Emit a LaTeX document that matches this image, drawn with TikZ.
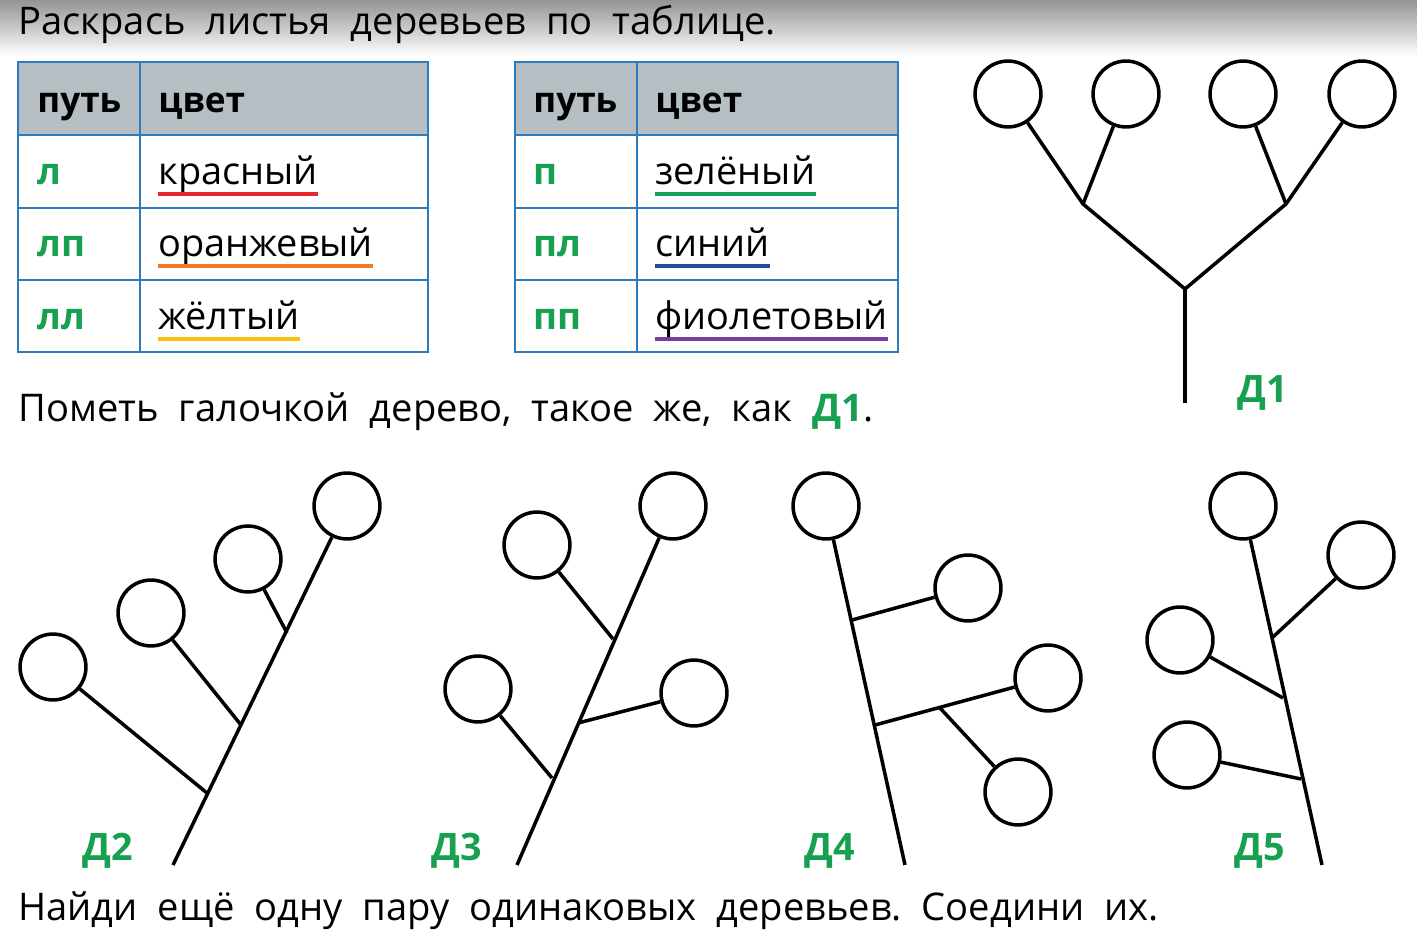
\documentclass[tikz,border=0pt]{standalone}
\usepackage{fontspec}
\setmainfont{Open Sans}
\definecolor{tblue}{HTML}{2B7BBD}
\definecolor{thead}{HTML}{B5BEC3}
\definecolor{dgreen}{HTML}{17A050}
\definecolor{ured}{HTML}{E8262D}
\definecolor{uorange}{HTML}{F07A22}
\definecolor{uyellow}{HTML}{FBBF0E}
\definecolor{ugreen}{HTML}{16A05A}
\definecolor{ublue}{HTML}{1F4E9A}
\definecolor{upurple}{HTML}{7A3D9E}
\tikzset{
  leaf/.style={circle, draw, line width=2pt, minimum size=37.5pt, inner sep=0pt},
  branch/.style={line width=2pt},
  txt/.style={anchor=base west, inner sep=0pt, font=\fontsize{21.7}{24}\selectfont},
  cell/.style={anchor=base west, inner sep=0pt, font=\fontsize{21.6}{24}\selectfont},
  hcell/.style={anchor=base west, inner sep=0pt, font=\fontsize{20}{24}\selectfont\bfseries},
  pcell/.style={anchor=base west, inner sep=0pt, text=dgreen, font=\fontsize{21}{24}\selectfont\bfseries},
  lbl/.style={anchor=base, inner sep=0pt, text=dgreen, font=\fontsize{21.5}{24}\selectfont\bfseries},
  uline/.style={line width=2.3pt},
  grid/.style={draw=tblue, line width=1.6pt}
}
\begin{document}
\begin{tikzpicture}[x=0.02cm, y=-0.02cm]
\useasboundingbox (0,0) rectangle (1417,935);
\shade[top color=black!42, bottom color=white] (0,0) rectangle (1417,56);
\node[txt] (title) at (18,35) {Раскрась\ \ листья\ \ деревьев\ \ по\ \ таблице.};

% table 1
\fill[thead] (18,62) rectangle (428,135);
\draw[grid] (18,62) rectangle (428,352);
\draw[grid] (18,135) -- (428,135) (18,208) -- (428,208) (18,280) -- (428,280) (140,62) -- (140,352);
\node[hcell] (h1) at (37,113) {путь};
\node[hcell] (h2) at (158,113) {цвет};
\node[pcell] (p1) at (37,185) {л};
\node[pcell] (p2) at (37,257) {лп};
\node[pcell] (p3) at (37,330) {лл};
\node[cell] (w1) at (158,185) {красный};
\node[cell] (w2) at (158,257) {оранжевый};
\node[cell] (w3) at (158,330) {жёлтый};
\draw[uline, ured] ([yshift=-5pt]w1.base west) -- ([yshift=-5pt]w1.base east);
\draw[uline, uorange] ([yshift=-5pt]w2.base west) -- ([yshift=-5pt]w2.base east);
\draw[uline, uyellow] ([yshift=-5pt]w3.base west) -- ([yshift=-5pt]w3.base east);

% table 2
\fill[thead] (515,62) rectangle (898,135);
\draw[grid] (515,62) rectangle (898,352);
\draw[grid] (515,135) -- (898,135) (515,208) -- (898,208) (515,280) -- (898,280) (637,62) -- (637,352);
\node[hcell] (h3) at (533,113) {путь};
\node[hcell] (h4) at (655,113) {цвет};
\node[pcell] (p4) at (533,185) {п};
\node[pcell] (p5) at (533,257) {пл};
\node[pcell] (p6) at (533,330) {пп};
\node[cell] (w4) at (655,185) {зелёный};
\node[cell] (w5) at (655,257) {синий};
\node[cell] (w6) at (655,330) {фиолетовый};
\draw[uline, ugreen] ([yshift=-5pt]w4.base west) -- ([yshift=-5pt]w4.base east);
\draw[uline, ublue] ([yshift=-5pt]w5.base west) -- ([yshift=-5pt]w5.base east);
\draw[uline, upurple] ([yshift=-5pt]w6.base west) -- ([yshift=-5pt]w6.base east);

\node[txt] (task2) at (18,422) {Пометь\ \ галочкой\ \ дерево,\ \ такое\ \ же,\ \ как\ \ \textcolor{dgreen}{\bfseries Д1}.};
\node[txt] (task3) at (18,920) {Найди\ \ ещё\ \ одну\ \ пару\ \ одинаковых\ \ деревьев.\ \ Соедини\ \ их.};

% D1
\node[leaf] (a1) at (1008,94) {};
\node[leaf] (a2) at (1126,94) {};
\node[leaf] (a3) at (1243,94) {};
\node[leaf] (a4) at (1362,94) {};
\coordinate (a5) at (1083,204);
\coordinate (a6) at (1286,204);
\coordinate (a7) at (1185,289);
\coordinate (a8) at (1185,403);
\draw[branch] (a1) -- (a5) -- (a7) -- (a6) -- (a4);
\draw[branch] (a2) -- (a5);
\draw[branch] (a3) -- (a6);
\draw[branch] (a7) -- (a8);
\node[lbl] (l1) at (1263,403) {Д1};

% D2
\node[leaf] (b1) at (53,667) {};
\node[leaf] (b2) at (151,613) {};
\node[leaf] (b3) at (248,559) {};
\node[leaf] (b4) at (347,506) {};
\coordinate (b5) at (207,793);
\coordinate (b6) at (241,725);
\coordinate (b7) at (287,633);
\coordinate (b8) at (173,865);
\draw[branch] (b8) -- (b4);
\draw[branch] (b1) -- (b5);
\draw[branch] (b2) -- (b6);
\draw[branch] (b3) -- (b7);
\node[lbl] (l2) at (108,860) {Д2};

% D3
\node[leaf] (c1) at (537,545) {};
\node[leaf] (c2) at (673,506) {};
\node[leaf] (c3) at (478,689) {};
\node[leaf] (c4) at (694,693) {};
\coordinate (c5) at (613,639);
\coordinate (c6) at (578,723);
\coordinate (c7) at (552,778);
\coordinate (c8) at (517,865);
\draw[branch] (c8) -- (c2);
\draw[branch] (c1) -- (c5);
\draw[branch] (c4) -- (c6);
\draw[branch] (c3) -- (c7);
\node[lbl] (l3) at (457,860) {Д3};

% D4
\node[leaf] (d1) at (826,506) {};
\node[leaf] (d2) at (968,588) {};
\node[leaf] (d3) at (1048,678) {};
\node[leaf] (d4) at (1018,792) {};
\coordinate (d5) at (852,620);
\coordinate (d6) at (875,725);
\coordinate (d7) at (940,708);
\coordinate (d8) at (905,865);
\draw[branch] (d8) -- (d1);
\draw[branch] (d2) -- (d5);
\draw[branch] (d3) -- (d6);
\draw[branch] (d4) -- (d7);
\node[lbl] (l4) at (830,860) {Д4};

% D5
\node[leaf] (e1) at (1243,506) {};
\node[leaf] (e2) at (1361,555) {};
\node[leaf] (e3) at (1180,640) {};
\node[leaf] (e4) at (1187,755) {};
\coordinate (e5) at (1273,637);
\coordinate (e6) at (1283,698);
\coordinate (e7) at (1301,779);
\coordinate (e8) at (1322,865);
\draw[branch] (e8) -- (e1);
\draw[branch] (e2) -- (e5);
\draw[branch] (e3) -- (e6);
\draw[branch] (e4) -- (e7);
\node[lbl] (l5) at (1260,860) {Д5};
\end{tikzpicture}
\end{document}
